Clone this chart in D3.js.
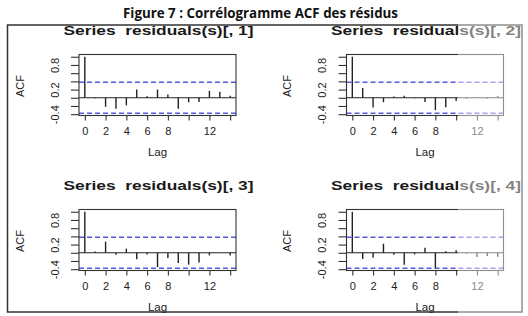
<!DOCTYPE html>
<html>
<head>
<meta charset="utf-8">
<script src="https://cdn.jsdelivr.net/npm/d3@7"></script>
<style>
  html, body { margin: 0; padding: 0; background: #fff; }
  svg { display: block; }
  text { white-space: pre; }
</style>
</head>
<body>
<div id="chart"></div>
<script>
const caption = "Figure 7 : Corrélogramme ACF des résidus";
const seriesTitles = ["Series  residuals(s)[, 1]", "Series  residuals(s)[, 2]",
                      "Series  residuals(s)[, 3]", "Series  residuals(s)[, 4]"];
const lags = [0, 1, 2, 3, 4, 5, 6, 7, 8, 9, 10, 11, 12, 13, 14];
const acf1 = [1.0, -0.01, -0.22, -0.265, -0.185, 0.2, 0.04, 0.2, 0.08, -0.265, -0.11, -0.1, 0.17, 0.145, 0.05];
const acf2 = [1.0, 0.24, -0.24, -0.11, 0.03, 0.05, -0.01, -0.1, -0.3, -0.23, -0.08, -0.02, 0.02, -0.02, 0.04];
const acf3 = [1.0, 0.03, 0.27, -0.05, 0.1, -0.16, -0.04, -0.35, -0.13, -0.25, -0.29, -0.24, -0.065, 0.0, -0.065];
const acf4 = [1.0, -0.15, -0.12, 0.22, -0.05, -0.29, -0.04, 0.12, -0.37, 0.04, 0.06, -0.02, -0.1, -0.08, -0.1];
const ciLimit = 0.377;
const yTickValues = [-0.4, -0.2, 0, 0.2, 0.4, 0.6, 0.8, 1.0];
const yTickLabels = ["-0.4", "0.2", "0.8"];
const xTickValues = [0, 2, 4, 6, 8, 10, 12, 14];
const xTickLabels = ["0", "2", "4", "6", "8", "12"];
const allSeries = [acf1, acf2, acf3, acf4];

const W = 528, H = 316;
const svg = d3.select("#chart").append("svg")
  .attr("width", W)
  .attr("height", H);

// caption
svg.append("text")
  .attr("x", 260.5)
  .attr("y", 18)
  .attr("text-anchor", "middle")
  .attr("font-family", "'Open Sans', 'Liberation Sans', sans-serif")
  .attr("font-weight", 700)
  .attr("font-size", 14.5)
  .attr("textLength", 275)
  .attr("lengthAdjust", "spacingAndGlyphs")
  .attr("fill", "#111")
  .text(caption);

// outer frame
svg.append("rect")
  .attr("x", 7.5).attr("y", 25)
  .attr("width", 514.5).attr("height", 287)
  .attr("fill", "none")
  .attr("stroke", "#333")
  .attr("stroke-width", 1.5);

const boxW = 157, boxH = 61;
const colLeft = [79, 346.5];
const rowTop = [54.5, 209.5];

const lo = Math.min(-ciLimit, d3.min(allSeries, s => d3.min(s)));
const hi = 1;
const pad = (hi - lo) * 0.04;
const xPad = (d3.max(lags) - d3.min(lags)) * 0.04;

allSeries.forEach((acf, i) => {
  const left = colLeft[i % 2];
  const top = rowTop[Math.floor(i / 2)];
  const g = svg.append("g").attr("transform", `translate(${left},${top})`);

  const x = d3.scaleLinear()
    .domain([d3.min(lags) - xPad, d3.max(lags) + xPad])
    .range([0, boxW]);
  const y = d3.scaleLinear()
    .domain([lo - pad, hi + pad])
    .range([boxH, 0]);

  // title
  g.append("text")
    .attr("x", boxW / 2 + 1)
    .attr("y", -19.5)
    .attr("text-anchor", "middle")
    .attr("font-family", "'Liberation Sans', Arial, sans-serif")
    .attr("font-weight", 700)
    .attr("font-size", 12.5)
    .attr("textLength", 190)
    .attr("lengthAdjust", "spacingAndGlyphs")
    .attr("fill", "#1a1a1a")
    .text(seriesTitles[i]);

  // confidence limits
  [ciLimit, -ciLimit].forEach(c => {
    g.append("line")
      .attr("x1", 0).attr("x2", boxW)
      .attr("y1", y(c)).attr("y2", y(c))
      .attr("stroke", "#5a5ae0")
      .attr("stroke-width", 1.5)
      .attr("stroke-dasharray", "5,3");
  });

  // zero line
  g.append("line")
    .attr("x1", 0).attr("x2", boxW)
    .attr("y1", y(0)).attr("y2", y(0))
    .attr("stroke", "#222")
    .attr("stroke-width", 1.1);

  // spikes
  g.selectAll(".spike")
    .data(lags)
    .enter()
    .append("line")
    .attr("class", "spike")
    .attr("x1", d => x(d)).attr("x2", d => x(d))
    .attr("y1", y(0))
    .attr("y2", (d, k) => y(acf[k]))
    .attr("stroke", "#222")
    .attr("stroke-width", 1.4);

  // box
  g.append("rect")
    .attr("width", boxW).attr("height", boxH)
    .attr("fill", "none")
    .attr("stroke", "#333")
    .attr("stroke-width", 1.1);

  // y axis
  const yAxis = g.append("g")
    .call(d3.axisLeft(y)
      .tickValues(yTickValues)
      .tickSize(8)
      .tickFormat(d => yTickLabels.includes(String(d)) ? String(d) : ""));
  yAxis.select(".domain").remove();
  yAxis.selectAll("line").attr("stroke", "#333").attr("stroke-width", 1.1);
  yAxis.selectAll("text")
    .attr("x", 0)
    .attr("dy", "0.35em")
    .attr("transform", "translate(-24,0) rotate(-90)")
    .attr("text-anchor", "middle")
    .attr("font-family", "'Liberation Sans', Arial, sans-serif")
    .attr("font-size", 11)
    .attr("fill", "#222");

  // x axis
  const xAxis = g.append("g")
    .attr("transform", `translate(0,${boxH})`)
    .call(d3.axisBottom(x)
      .tickValues(xTickValues)
      .tickSize(5)
      .tickFormat(d => xTickLabels.includes(String(d)) ? String(d) : ""));
  xAxis.select(".domain").remove();
  xAxis.selectAll("line").attr("stroke", "#333").attr("stroke-width", 1.1);
  xAxis.selectAll("text")
    .attr("y", 11.5)
    .attr("font-family", "'Liberation Sans', Arial, sans-serif")
    .attr("font-size", 11)
    .attr("fill", "#222");

  // axis labels
  g.append("text")
    .attr("x", boxW / 2)
    .attr("y", boxH + 40.5)
    .attr("text-anchor", "middle")
    .attr("font-family", "'Liberation Sans', Arial, sans-serif")
    .attr("font-size", 11.5)
    .attr("fill", "#222")
    .text("Lag");

  g.append("text")
    .attr("transform", `translate(-59,${boxH / 2 + 1}) rotate(-90)`)
    .attr("dy", "0.35em")
    .attr("text-anchor", "middle")
    .attr("font-family", "'Liberation Sans', Arial, sans-serif")
    .attr("font-size", 11)
    .attr("fill", "#222")
    .text("ACF");
});

// faded strip on the right edge of the scanned figure
svg.append("rect")
  .attr("x", 458).attr("y", 20)
  .attr("width", W - 458).attr("height", 296)
  .attr("fill", "#fff")
  .attr("opacity", 0.45);
</script>
</body>
</html>
